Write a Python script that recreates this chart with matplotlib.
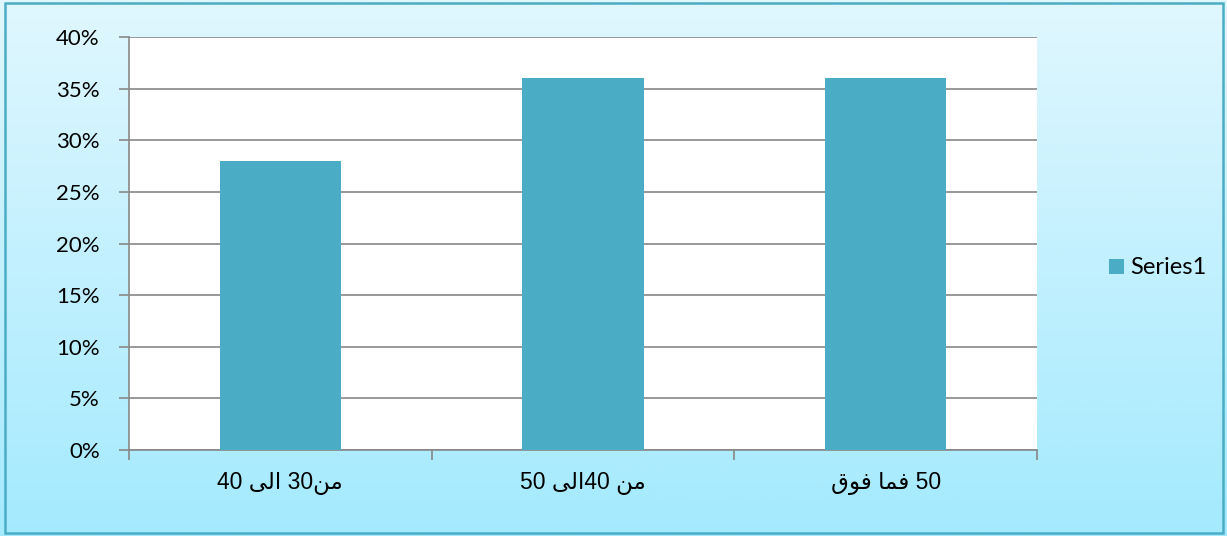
import re
import numpy as np
import matplotlib.pyplot as plt
from matplotlib.patches import FancyBboxPatch

categories = ["من30 الى 40", "من 40الى 50", "50 فما فوق"]
shares = [0.28, 0.36, 0.36]
series_name = "Series1"
y_ticks = [0.0, 0.05, 0.10, 0.15, 0.20, 0.25, 0.30, 0.35, 0.40]

bar_color = "#4bacc6"
grid_color = "#888888"

# Arabic presentation forms: isolated, final, initial, medial
FORMS = {
    "ا": ("\uFE8D", "\uFE8E", None, None),
    "و": ("\uFEED", "\uFEEE", None, None),
    "ى": ("\uFEEF", "\uFEF0", "\uFBE8", "\uFBE9"),
    "ل": ("\uFEDD", "\uFEDE", "\uFEDF", "\uFEE0"),
    "م": ("\uFEE1", "\uFEE2", "\uFEE3", "\uFEE4"),
    "ن": ("\uFEE5", "\uFEE6", "\uFEE7", "\uFEE8"),
    "ف": ("\uFED1", "\uFED2", "\uFED3", "\uFED4"),
    "ق": ("\uFED5", "\uFED6", "\uFED7", "\uFED8"),
}


def shape_word(word):
    out = []
    for i, ch in enumerate(word):
        prev_joins = i > 0 and FORMS[word[i - 1]][2] is not None
        next_joins = i < len(word) - 1 and FORMS[ch][2] is not None
        iso, fin, ini, med = FORMS[ch]
        if prev_joins and next_joins:
            out.append(med)
        elif prev_joins:
            out.append(fin)
        elif next_joins:
            out.append(ini)
        else:
            out.append(iso)
    return "".join(out)


def visual(text):
    # right-to-left paragraph: reverse the runs, keep digits left-to-right
    runs = re.findall(r"[\u0600-\u06FF]+|\d+|\s+", text)
    res = []
    for r in reversed(runs):
        if re.match(r"[\u0600-\u06FF]", r):
            res.append(shape_word(r)[::-1])
        else:
            res.append(r)
    return "".join(res)


fig = plt.figure(figsize=(12.27, 5.36), dpi=100)

# gradient background with teal frame
bg = fig.add_axes([0, 0, 1, 1], zorder=-10)
top = np.array([224, 247, 254]) / 255
bottom = np.array([164, 234, 254]) / 255
t = np.linspace(0, 1, 256)[:, None]
grad = top[None, :] * (1 - t) + bottom[None, :] * t
bg.imshow(grad[:, None, :], aspect="auto", extent=[0, 1, 0, 1])
bg.set_xlim(0, 1)
bg.set_ylim(0, 1)
bg.axis("off")
frame = FancyBboxPatch((5 / 1227, 3 / 536), 1218 / 1227, 530 / 536,
                       boxstyle="square,pad=0", transform=fig.transFigure,
                       fill=False, edgecolor=bar_color, linewidth=1.8)
fig.patches.append(frame)

ax = fig.add_axes([129 / 1227, 1 - 450 / 536, 908 / 1227, 413 / 536])
ax.set_facecolor("white")
x = np.arange(len(categories))
bars = ax.bar(x, shares, width=0.4, color=bar_color, zorder=3, label=series_name)

ax.set_xlim(-0.5, len(categories) - 0.5)
ax.set_ylim(0, 0.40)
ax.set_yticks(y_ticks)
ax.set_yticklabels([f"{int(round(v * 100))}%" for v in y_ticks],
                   fontfamily="Lato", fontsize=16)
ax.yaxis.grid(True, color=grid_color, linewidth=1.2, zorder=0)
ax.tick_params(axis="y", length=7, width=1.2, color=grid_color, pad=14)

ax.set_xticks(np.arange(len(categories) + 1) - 0.5)
ax.set_xticklabels([])
ax.tick_params(axis="x", which="major", length=7, width=1.2, color=grid_color)
ax.set_xticks(x, minor=True)
ax.set_xticklabels([visual(c) for c in categories], minor=True,
                   fontfamily=["Liberation Sans", "DejaVu Sans"], fontsize=16.5)
ax.tick_params(axis="x", which="minor", length=0, pad=16)

for side in ["top", "right"]:
    ax.spines[side].set_visible(False)
for side in ["left", "bottom"]:
    ax.spines[side].set_color(grid_color)
    ax.spines[side].set_linewidth(1.2)

fig.legend(handles=[bars], labels=[series_name], loc="center left",
           bbox_to_anchor=(1088 / 1227, 1 - 268 / 536), frameon=False,
           handlelength=0.62, handleheight=0.62, handletextpad=0.25,
           prop={"family": "Lato", "size": 17})

fig.savefig("out.png", dpi=100)
